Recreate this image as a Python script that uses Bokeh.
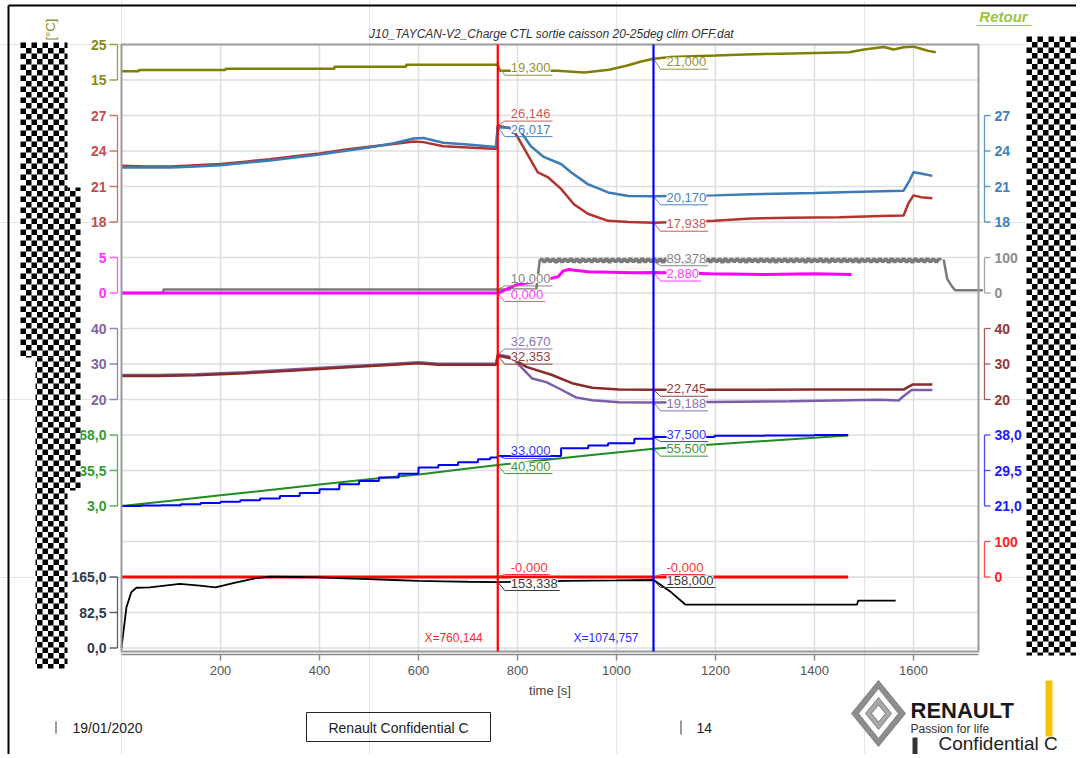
import math
from bokeh.plotting import figure
from bokeh.models import Range1d
from bokeh.core.properties import value
from bokeh.embed import file_html
from bokeh.resources import INLINE

# ------------------------------------------------------------------ data
x_ticks = [200, 400, 600, 800, 1000, 1200, 1400, 1600]
x_label = "time [s]"
title = "J10_TAYCAN-V2_Charge CTL sortie caisson 20-25deg clim OFF.dat"
cursor_times = [760.144, 1074.757]

olive_t = [0, 35, 35, 210, 210, 430, 430, 575, 575, 760, 764, 880, 935, 985, 1020, 1050,
           1075, 1110, 1200, 1260, 1330, 1400, 1470, 1500, 1540, 1560, 1580, 1600, 1615, 1630, 1645]
olive_v = [17.5, 17.5, 17.8, 17.8, 18.2, 18.2, 18.7, 18.7, 19.3, 19.3, 17.6, 17.6, 17.1, 17.9, 19.0, 20.2,
           21.0, 21.5, 21.9, 22.2, 22.4, 22.6, 22.8, 23.6, 24.3, 23.6, 24.2, 24.4, 23.8, 23.2, 22.8]

tred_t = [0, 50, 100, 150, 200, 250, 300, 350, 400, 450, 500, 550, 590, 610, 650, 700, 750, 757,
          760, 787, 800, 826, 841, 861, 888, 914, 942, 983, 1024, 1075, 1198, 1272, 1350, 1450,
          1535, 1580, 1590, 1600, 1615, 1638]
tred_v = [22.75, 22.7, 22.7, 22.8, 22.9, 23.1, 23.3, 23.55, 23.8, 24.1, 24.35, 24.6, 24.8, 24.75,
          24.4, 24.3, 24.2, 24.2, 26.146, 25.9, 25.2, 23.3, 22.2, 21.8, 20.8, 19.5, 18.7, 18.1, 18.0,
          17.938, 18.1, 18.3, 18.35, 18.4, 18.5, 18.55, 19.6, 20.25, 20.1, 20.0]

tblue_t = [0, 50, 100, 150, 200, 250, 300, 350, 400, 450, 500, 550, 590, 610, 650, 700, 750, 757,
           760, 790, 807, 827, 853, 888, 908, 942, 983, 1024, 1075, 1198, 1272, 1400, 1535,
           1580, 1592, 1600, 1615, 1638]
tblue_v = [22.6, 22.6, 22.6, 22.7, 22.8, 23.0, 23.2, 23.45, 23.7, 24.0, 24.3, 24.65, 25.05, 25.1,
           24.7, 24.55, 24.35, 24.35, 26.017, 25.95, 25.6, 24.4, 23.5, 22.9, 22.2, 21.2, 20.5, 20.2,
           20.17, 20.25, 20.34, 20.45, 20.6, 20.65, 21.5, 22.2, 22.1, 21.9]

gray_a_t = [0, 84, 85, 838, 845]
gray_a_v = [0, 0, 10, 10, 95]
gray_saw_start, gray_saw_dt = 845, 6
gray_saw_v = [95, 88, 96, 89, 95, 87, 96, 88, 95, 89, 96, 88, 95, 87, 96, 89, 95,
              88, 96, 89, 95, 88, 96, 87, 95, 89, 96, 88, 95, 88, 96, 89, 95, 87,
              96, 88, 95, 89, 96, 88, 95, 87, 96, 89, 95, 88, 96, 89, 95, 88, 96,
              87, 95, 89, 96, 88, 95, 88, 96, 89, 95, 87, 96, 88, 95, 89, 96, 88,
              95, 87, 96, 89, 95, 88, 96, 89, 95, 88, 96, 87, 95, 89, 96, 88, 95,
              88, 96, 89, 95, 87, 96, 88, 95, 89, 96, 88, 95, 87, 96, 89, 95, 88,
              96, 89, 95, 88, 96, 87, 95, 89, 96, 88, 95, 88, 96, 89, 95, 87, 96,
              88, 95, 89, 96, 88, 95, 87, 96, 89, 95, 88, 96, 89, 95, 88, 95, 94]
gray_c_t = [1661, 1668, 1676, 1684, 1740]
gray_c_v = [94, 40, 22, 8, 8]

mag_t = [0, 760, 765, 780, 800, 850, 882, 892, 902, 943, 1009, 1040, 1075, 1190, 1300, 1400, 1475]
mag_v = [0, 0, 0.1, 0.6, 1.2, 1.8, 2.3, 3.1, 3.3, 3.0, 2.9, 2.85, 2.88, 2.7, 2.6, 2.7, 2.6]

purple_t = [0, 70, 150, 250, 350, 450, 550, 600, 640, 700, 757, 760, 789, 804, 830, 858, 884, 918,
            951, 1005, 1072, 1193, 1350, 1530, 1570, 1576, 1596, 1638]
purple_v = [26.9, 26.9, 27.1, 27.7, 28.5, 29.3, 30.1, 30.5, 30.1, 30.1, 30.1, 32.67, 31.9, 29.6,
            25.9, 24.9, 23.1, 20.6, 19.8, 19.25, 19.19, 19.3, 19.5, 19.9, 19.7, 20.5, 22.7, 22.7]

brown_t = [0, 70, 150, 250, 350, 450, 550, 600, 640, 700, 757, 760, 790, 818, 870, 910, 951, 1005,
           1075, 1193, 1400, 1580, 1585, 1598, 1638]
brown_v = [26.6, 26.6, 26.8, 27.4, 28.2, 29.0, 29.8, 30.2, 29.8, 29.8, 29.8, 32.353, 31.5, 29.2,
           26.9, 24.6, 23.3, 22.8, 22.745, 22.75, 22.8, 22.8, 23.2, 24.2, 24.2]

blue_t = [0, 40, 80, 120, 160, 200, 240, 280, 320, 360, 400, 440, 480, 520, 560, 600, 640, 680,
          720, 745, 760, 888, 943, 983, 1036, 1075, 1198, 1300, 1400, 1468]
blue_v = [21.0, 21.1, 21.2, 21.4, 21.7, 22.0, 22.4, 22.8, 23.4, 24.1, 25.0, 26.2, 27.0, 27.8,
          28.7, 30.2, 30.8, 31.5, 32.2, 32.6, 33.0, 34.8, 35.5, 36.0, 37.1, 37.5, 37.8, 37.9, 38.0, 38.0]

green_t = [0, 100, 200, 300, 400, 500, 605, 700, 760, 850, 950, 1075, 1200, 1300, 1400, 1468]
green_v = [3.0, 7.8, 12.8, 17.7, 22.6, 27.5, 32.0, 37.3, 40.5, 44.8, 49.6, 55.5, 59.5, 62.5, 65.5, 67.5]

red_t = [0, 1468]
red_v = [-0.0, -0.0]

black_t = [0, 10, 20, 30, 57, 118, 158, 190, 230, 270, 300, 350, 400, 450, 500, 550, 600, 650,
           700, 760, 820, 900, 1000, 1075, 1110, 1139, 1300, 1486, 1488, 1564]
black_v = [0, 95, 130, 140, 141, 149, 145, 141, 152, 162, 166, 165, 164, 162, 160, 158, 156, 155,
           154, 153.3, 154, 156, 157, 158, 130, 101, 101, 101, 110, 110]

# cursor read-outs (same series order in both lists)
cursor_series = ["olive", "tred", "tblue", "gray", "mag", "purple", "brown", "blue", "green", "red", "black"]
cursor1_vals = [19.300, 26.146, 26.017, 10.000, 0.000, 32.670, 32.353, 33.000, 40.500, -0.000, 153.338]
cursor2_vals = [21.000, 17.938, 20.170, 89.378, 2.880, 19.188, 22.745, 37.500, 55.500, -0.000, 158.000]

# band axes (band, ticks, labels)
left_axes = [("olive", [25, 15], ["25", "15"]),
             ("temp", [27, 24, 21, 18], ["27", "24", "21", "18"]),
             ("mag", [5, 0], ["5", "0"]),
             ("pb", [40, 30, 20], ["40", "30", "20"]),
             ("green", [68.0, 35.5, 3.0], ["68,0", "35,5", "3,0"]),
             ("black", [165.0, 82.5, 0.0], ["165,0", "82,5", "0,0"])]
right_axes = [("temp", [27, 24, 21, 18], ["27", "24", "21", "18"]),
              ("pct", [100, 0], ["100", "0"]),
              ("pb", [40, 30, 20], ["40", "30", "20"]),
              ("blue", [38.0, 29.5, 21.0], ["38,0", "29,5", "21,0"]),
              ("red", [100, 0], ["100", "0"])]

footer_texts = ["19/01/2020", "Renault Confidential C", "14", "RENAULT", "Passion for life", "Confidential C"]

# ------------------------------------------------------------------ geometry / styles
FONT = value("Liberation Sans")
W, H = 1076, 754                       # canvas = page pixels
FRAME_L, FRAME_T, FRAME_R, FRAME_B = 121, 44, 978, 651
PX_PER_S = 0.495
GRID_PX = 35.5
T_END = (FRAME_R - FRAME_L) / PX_PER_S
K_BOT = (FRAME_B - FRAME_T) / GRID_PX


def X(px):
    return (px - FRAME_L) / PX_PER_S


def Y(py):
    return (py - FRAME_T) / GRID_PX


band_defs = {
    "olive": (25, 0, 15, 1),
    "temp": (27, 2, 18, 5),
    "mag": (5, 6, 0, 7),
    "pct": (100, 6, 0, 7),
    "pb": (40, 8, 20, 10),
    "green": (68, 11, 3, 13),
    "blue": (38, 11, 21, 13),
    "red": (100, 14, 0, 15),
    "black": (165, 15, 0, 17),
}
ranges = {}
for name, (va, ka, vb, kb) in band_defs.items():
    per_k = (vb - va) / (kb - ka)
    ranges[name] = Range1d(start=va + (Y(H) - ka) * per_k, end=va + (Y(0) - ka) * per_k)

series_band = {"olive": "olive", "tred": "temp", "tblue": "temp", "gray": "pct", "mag": "mag",
               "purple": "pb", "brown": "pb", "blue": "blue", "green": "green", "red": "red",
               "black": "black"}
line_col = {"olive": "#808000", "tred": "#b5332e", "tblue": "#3c7bb6", "gray": "#7a7a7a",
            "mag": "#ff00ff", "purple": "#7a5fa6", "brown": "#8b2a2a", "blue": "#0000ff",
            "green": "#1f8c1f", "red": "#ff0000", "black": "#000000"}
lab_col = {"olive": "#94943a", "tred": "#c45c5c", "tblue": "#4a83bd", "gray": "#858585",
           "mag": "#ff3cff", "purple": "#8a74b2", "brown": "#8e4040", "blue": "#3a3aff",
           "green": "#3f953f", "red": "#ff3535", "black": "#3a3a3a"}
axis_col = {"olive_l": "#8a8a10", "temp_l": "#c0504d", "mag_l": "#ff33ff", "pb_l": "#8064a2",
            "green_l": "#2f9e2f", "black_l": "#2e3b4e", "temp_r": "#3f7fbf", "pct_r": "#8c8c8c",
            "pb_r": "#943634", "blue_r": "#2020ff", "red_r": "#ff2020"}
dy1 = [3, -12, 2, -11, 1, -13, 1, -5, 1, -10, 1]
dy2 = [3, 1, 1, -3, 1, 1, -1, -3, 0, -10, 0]

# ------------------------------------------------------------------ figure (frame = whole page)
p = figure(width=W, height=H, min_border=0,
           x_range=Range1d(X(0), X(W)), y_range=Range1d(Y(H), Y(0)),
           x_axis_location=None, y_axis_location=None, toolbar_location=None,
           output_backend="svg", background_fill_color="white", border_fill_color="white")
p.outline_line_color = None
p.extra_y_ranges = ranges
tick_k = list(range(1, 18))

# grid
p.segment(x0=x_ticks, y0=[0] * len(x_ticks), x1=x_ticks, y1=[K_BOT] * len(x_ticks),
          line_color="#dedede", line_width=1.5)
p.segment(x0=[0] * len(tick_k), y0=tick_k, x1=[T_END] * len(tick_k), y1=tick_k,
          line_color="#dedede", line_width=1.5)

# x axis
p.segment(x0=[0], y0=[Y(654)], x1=[T_END], y1=[Y(654)], line_color="#8a8a8a", line_width=1.5)
p.segment(x0=x_ticks, y0=[Y(654)] * len(x_ticks), x1=x_ticks, y1=[Y(660)] * len(x_ticks),
          line_color="#8a8a8a", line_width=1.5)
p.text(x=x_ticks, y=[Y(670)] * len(x_ticks), text=[str(t) for t in x_ticks],
       text_align="center", text_baseline="middle", text_font=FONT, text_font_size="13px",
       text_color="#555555")
p.text(x=[T_END / 2], y=[Y(690)], text=[x_label], text_align="center", text_baseline="middle",
       text_font=FONT, text_font_size="13px", text_color="#444444")

# ------------------------------------------------------------------ series


def draw(name, t, v, w, step=False):
    kw = dict(y_range_name=series_band[name], line_color=line_col[name], line_width=w)
    if step:
        p.step(t, v, mode="after", **kw)
    else:
        p.line(t, v, **kw)


draw("olive", olive_t, olive_v, 2.5)
draw("tred", tred_t, tred_v, 2.5)
draw("tblue", tblue_t, tblue_v, 2.5)
draw("gray", gray_a_t, gray_a_v, 2.5)
saw_t = [gray_saw_start + gray_saw_dt * i for i in range(len(gray_saw_v))]
draw("gray", saw_t, gray_saw_v, 3, step=True)
draw("gray", gray_c_t, gray_c_v, 2.5)
draw("mag", mag_t, mag_v, 3)
draw("purple", purple_t, purple_v, 2.5)
draw("brown", brown_t, brown_v, 2.5)
draw("green", green_t, green_v, 2)
draw("blue", blue_t, blue_v, 2, step=True)
draw("red", red_t, red_v, 3)
draw("black", black_t, black_v, 1.8)

# plot frame
p.quad(left=[0], right=[T_END], top=[0], bottom=[K_BOT], fill_color=None,
       line_color="#9a9a9a", line_width=2)

# ------------------------------------------------------------------ cursors and read-outs


def fmt(v):
    return f"{v:.3f}".replace(".", ",")


def text_w(s):
    return sum(3.6 if c == "," else 4.3 if c == "-" else 7.23 for c in s)


for ct, vals, dys in [(cursor_times[0], cursor1_vals, dy1), (cursor_times[1], cursor2_vals, dy2)]:
    for name, v, dy in zip(cursor_series, vals, dys):
        rn = series_band[name]
        s = fmt(v)
        p.text(x=[ct], y=[v], text=[s], y_range_name=rn, x_offset=13, y_offset=dy,
               text_baseline="middle", text_align="left", text_font=FONT,
               text_font_size="13px", text_color=lab_col[name],
               background_fill_color="white")
        r = ranges[rn]
        upp = (r.end - r.start) / H
        dt = 1 / PX_PER_S
        yl = v - (dy + 7.5) * upp
        p.line([ct, ct + 7 * dt, ct + (15 + text_w(s)) * dt], [v, yl, yl], y_range_name=rn,
               line_color=lab_col[name], line_width=1)

for ct, col, tcol in [(cursor_times[0], "#ff0000", "#ff2a2a"), (cursor_times[1], "#0000ff", "#2a2aff")]:
    p.segment(x0=[ct], y0=[0], x1=[ct], y1=[K_BOT], line_color=col, line_width=2.2)
    p.text(x=[ct], y=[Y(637)], text=["X=" + fmt(ct)], x_offset=-15, text_align="right",
           text_baseline="middle", text_color=tcol, text_font=FONT, text_font_size="12px")

# ------------------------------------------------------------------ band axes
for side, axes in [("left", left_axes), ("right", right_axes)]:
    for rn, ticks, labels in axes:
        col = axis_col[rn + ("_l" if side == "left" else "_r")]
        if side == "left":
            xv, xt, xl, al = X(117), X(109), X(106), "right"
        else:
            xv, xt, xl, al = X(984), X(990), X(994), "left"
        n = len(ticks)
        p.segment(x0=[xv], y0=[max(ticks)], x1=[xv], y1=[min(ticks)], y_range_name=rn,
                  line_color=col, line_width=1.3, line_alpha=0.8)
        p.segment(x0=[xt] * n, y0=ticks, x1=[xv] * n, y1=ticks, y_range_name=rn,
                  line_color=col, line_width=1.3, line_alpha=0.8)
        p.text(x=[xl] * n, y=ticks, text=labels, y_range_name=rn, text_align=al,
               text_baseline="middle", text_color=col, text_font=FONT,
               text_font_size="14px", text_font_style="bold")

# axis title partially visible above the redaction
p.text(x=[X(50)], y=[Y(18)], text=["T [°C]"], angle=math.pi / 2, text_align="right",
       text_baseline="middle", text_color="#8a8a10", text_font=FONT, text_font_size="13px")

# ------------------------------------------------------------------ title & header
p.text(x=[X(551)], y=[Y(33)], text=[title], text_align="center", text_baseline="middle",
       text_font=FONT, text_font_size="12px", text_font_style="italic", text_color="#333333")
p.text(x=[X(1003)], y=[Y(16)], text=["Retour"], text_align="center", text_baseline="middle",
       text_font=FONT, text_font_size="15px", text_font_style="bold italic", text_color="#9bc53d")
p.segment(x0=[X(976)], y0=[Y(25)], x1=[X(1031)], y1=[Y(25)], line_color="#9bc53d", line_width=1.2)

# page frame lines
p.segment(x0=[X(8), X(8)], y0=[Y(5), Y(5)], x1=[X(W), X(8)], y1=[Y(5), Y(H)],
          line_color="#000000", line_width=2)

# ------------------------------------------------------------------ footer
p.quad(left=[X(54.5), X(679.5), X(1045), X(912)], right=[X(56.5), X(681.5), X(1052), X(917)],
       top=[Y(721), Y(720), Y(680), Y(737)], bottom=[Y(733), Y(734), Y(736), Y(754)],
       fill_color=["#999999", "#999999", "#f5c400", "#333333"], line_color=None)
p.quad(left=[X(306)], right=[X(490)], top=[Y(712)], bottom=[Y(741)], fill_color=None,
       line_color="#222222", line_width=1)
p.text(x=[X(72), X(398), X(696)], y=[Y(727)] * 3,
       text=[footer_texts[0], footer_texts[1], footer_texts[2]],
       text_align=["left", "center", "left"], text_baseline="middle", text_font=FONT,
       text_font_size="14px", text_color="#222222")

# Renault logo (nested diamonds)
cx, cy = 878, 713
for hw, hh, col in [(27, 33, "#8d8d8d"), (20, 25, "#ffffff"), (13, 16, "#a8a8a8"), (7, 8.5, "#ffffff")]:
    p.patch([X(cx), X(cx + hw), X(cx), X(cx - hw)], [Y(cy - hh), Y(cy), Y(cy + hh), Y(cy)],
            fill_color=col, line_color="#6e6e6e", line_width=0.8)
p.text(x=[X(910)], y=[Y(710)], text=[footer_texts[3]], text_baseline="middle", text_font=FONT,
       text_font_size="22px", text_font_style="bold", text_color="#1a1a1a")
p.text(x=[X(910)], y=[Y(728)], text=[footer_texts[4]], text_baseline="middle", text_font=FONT,
       text_font_size="12px", text_color="#333333")
p.text(x=[X(938)], y=[Y(743)], text=[footer_texts[5]], text_baseline="middle", text_font=FONT,
       text_font_size="19px", text_color="#222222")

# ------------------------------------------------------------------ redaction checkerboards
CELL = 5.5
wl, wr, wt, wb = [], [], [], []
bl, br, bt, bb = [], [], [], []


def checker(x0, x1, y0, y1, ox, oy):
    wl.append(X(x0)); wr.append(X(x1)); wt.append(Y(y0)); wb.append(Y(y1))
    for i in range(int(math.floor((x0 - ox) / CELL)), int(math.ceil((x1 - ox) / CELL))):
        for j in range(int(math.floor((y0 - oy) / CELL)), int(math.ceil((y1 - oy) / CELL))):
            if (i + j) % 2:
                continue
            a = max(x0, ox + i * CELL)
            b = min(x1, ox + (i + 1) * CELL)
            c = max(y0, oy + j * CELL)
            d = min(y1, oy + (j + 1) * CELL)
            if b - a < 0.5 or d - c < 0.5:
                continue
            bl.append(X(a)); br.append(X(b)); bt.append(Y(c)); bb.append(Y(d))


checker(20, 67, 42, 357, 20, 42)
checker(67, 80, 187, 490, 20, 42)
checker(35, 67, 357, 668, 20, 42)
checker(1026, W, 36, 655, 1026, 36)
p.quad(left=wl, right=wr, top=wt, bottom=wb, fill_color="white", line_color=None)
p.quad(left=bl, right=br, top=bt, bottom=bb, fill_color="black", line_color=None)

open("out.html", "w").write(file_html(p, INLINE))
